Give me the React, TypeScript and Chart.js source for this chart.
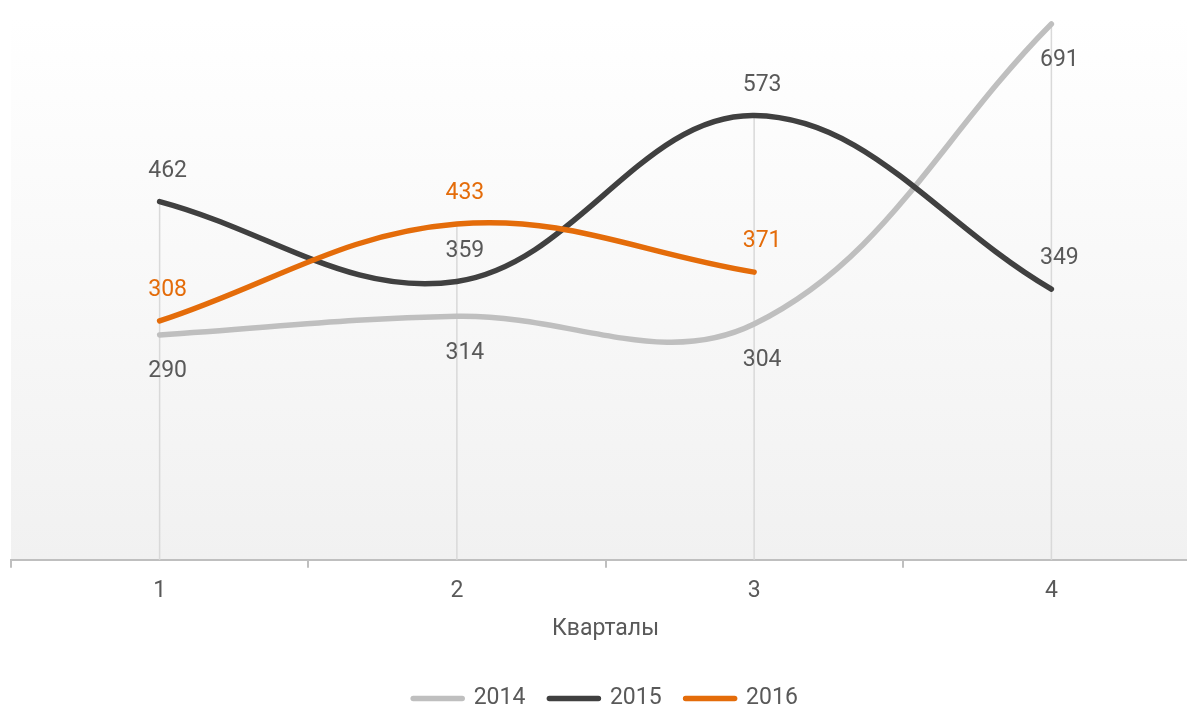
import React, { useEffect, useRef } from "react";
import { Chart, registerables } from "chart.js";

Chart.register(...registerables);

// ---- data ----
const categories = ["1", "2", "3", "4"];
const seriesNames = ["2014", "2015", "2016"];
const values2014 = [290, 314, 304, 691];
const values2015 = [462, 359, 573, 349];
const values2016 = [308, 433, 371];
const labelSide2014 = ["below", "below", "below", "below"];
const labelSide2015 = ["above", "above", "above", "above"];
const labelSide2016 = ["above", "above", "above"];
const axisTitle = "Кварталы";
const yMin = 0;
const yMax = 700;

// ---- style ----
const FONT = "Roboto";
const TEXT = "#595959";
const C2014 = "#bfbfbf";
const C2015 = "#404040";
const C2016 = "#e46c0a";
const LINE_W = 5.5;

const bgPlugin = {
  id: "plotBg",
  beforeDraw(chart: any) {
    const { ctx, chartArea: a } = chart;
    const g = ctx.createLinearGradient(0, a.top, 0, a.bottom);
    g.addColorStop(0, "#ffffff");
    g.addColorStop(1, "#f1f1f1");
    ctx.save();
    ctx.fillStyle = g;
    ctx.fillRect(a.left, a.top, a.right - a.left, a.bottom - a.top);
    ctx.restore();
  },
};

const dropLinePlugin = {
  id: "dropLines",
  beforeDatasetsDraw(chart: any) {
    const { ctx, chartArea: a } = chart;
    const xs = chart.scales.x;
    const ys = chart.scales.y;
    ctx.save();
    ctx.strokeStyle = "#d9d9d9";
    ctx.lineWidth = 1.5;
    categories.forEach((_, i) => {
      const vals = chart.data.datasets
        .map((d: any) => d.data[i])
        .filter((v: any) => v !== null && v !== undefined);
      if (!vals.length) return;
      const m = Math.max(...vals);
      const px = xs.getPixelForValue(i);
      ctx.beginPath();
      ctx.moveTo(px, ys.getPixelForValue(m));
      ctx.lineTo(px, a.bottom);
      ctx.stroke();
    });
    ctx.restore();
  },
};

const valueLabelPlugin = {
  id: "valueLabels",
  afterDatasetsDraw(chart: any) {
    const ctx = chart.ctx;
    ctx.save();
    ctx.font = `23px ${FONT}`;
    ctx.textAlign = "center";
    ctx.textBaseline = "alphabetic";
    chart.data.datasets.forEach((ds: any, di: number) => {
      const meta = chart.getDatasetMeta(di);
      ds.data.forEach((v: any, i: number) => {
        if (v === null || v === undefined) return;
        const pt = meta.data[i];
        if (!pt) return;
        const side = ds.labelSide[i];
        const cy = side === "above" ? pt.y - 33 : pt.y + 34;
        ctx.fillStyle = ds.labelColor;
        ctx.fillText(String(v), pt.x + 8, cy + 8.2);
      });
    });
    ctx.restore();
  },
};

export default function App() {
  const ref = useRef<HTMLCanvasElement | null>(null);

  useEffect(() => {
    if (!ref.current) return;
    const mk = (label: string, data: any[], color: string, order: number, side: string[], labelColor: string) => ({
      label,
      data,
      borderColor: color,
      backgroundColor: color,
      pointBackgroundColor: color,
      pointBorderColor: color,
      pointBorderWidth: LINE_W,
      borderWidth: LINE_W,
      borderCapStyle: "round",
      borderJoinStyle: "round",
      pointRadius: 0,
      pointHoverRadius: 0,
      tension: 0.38,
      fill: false,
      order,
      labelSide: side,
      labelColor,
    });
    const chart = new Chart(ref.current, {
      type: "line",
      data: {
        labels: categories,
        datasets: [
          mk(seriesNames[0], values2014, C2014, 3, labelSide2014, TEXT),
          mk(seriesNames[1], values2015, C2015, 2, labelSide2015, TEXT),
          mk(seriesNames[2], values2016, C2016, 1, labelSide2016, C2016),
        ] as any,
      },
      options: {
        animation: false,
        responsive: false,
        events: [],
        layout: { padding: { left: 11, right: 12, top: 17, bottom: 0 } },
        scales: {
          x: {
            type: "category",
            offset: true,
            grid: {
              offset: true,
              drawOnChartArea: false,
              drawTicks: true,
              tickLength: 8,
              color: "#bfbfbf",
              lineWidth: 2,
            },
            border: { display: true, color: "#bfbfbf", width: 2 },
            ticks: { color: TEXT, font: { family: FONT, size: 23 }, padding: 10 },
            title: {
              display: true,
              text: axisTitle,
              color: TEXT,
              font: { family: FONT, size: 23 },
              padding: { top: 0, bottom: 20 },
            },
          },
          y: { display: false, min: yMin, max: yMax },
        },
        plugins: {
          tooltip: { enabled: false },
          legend: {
            position: "bottom",
            labels: {
              usePointStyle: true,
              pointStyle: "line",
              pointStyleWidth: 49,
              padding: 24,
              color: TEXT,
              font: { family: FONT, size: 23 },
              sort: (a: any, b: any) => a.datasetIndex - b.datasetIndex,
              generateLabels: (c: any) =>
                (Chart.defaults.plugins.legend.labels.generateLabels as any)(c).map((l: any) => ({
                  ...l,
                  lineCap: "round",
                  lineWidth: LINE_W,
                })),
            },
          },
        },
      } as any,
      plugins: [bgPlugin, dropLinePlugin, valueLabelPlugin],
    });
    return () => chart.destroy();
  }, []);

  return (
    <div
      style={{
        position: "absolute",
        left: 0,
        top: 0,
        width: 1187,
        height: 709,
        overflow: "hidden",
        background: "#ffffff",
      }}
    >
      <canvas ref={ref} width={1212} height={720} style={{ display: "block" }} />
    </div>
  );
}
